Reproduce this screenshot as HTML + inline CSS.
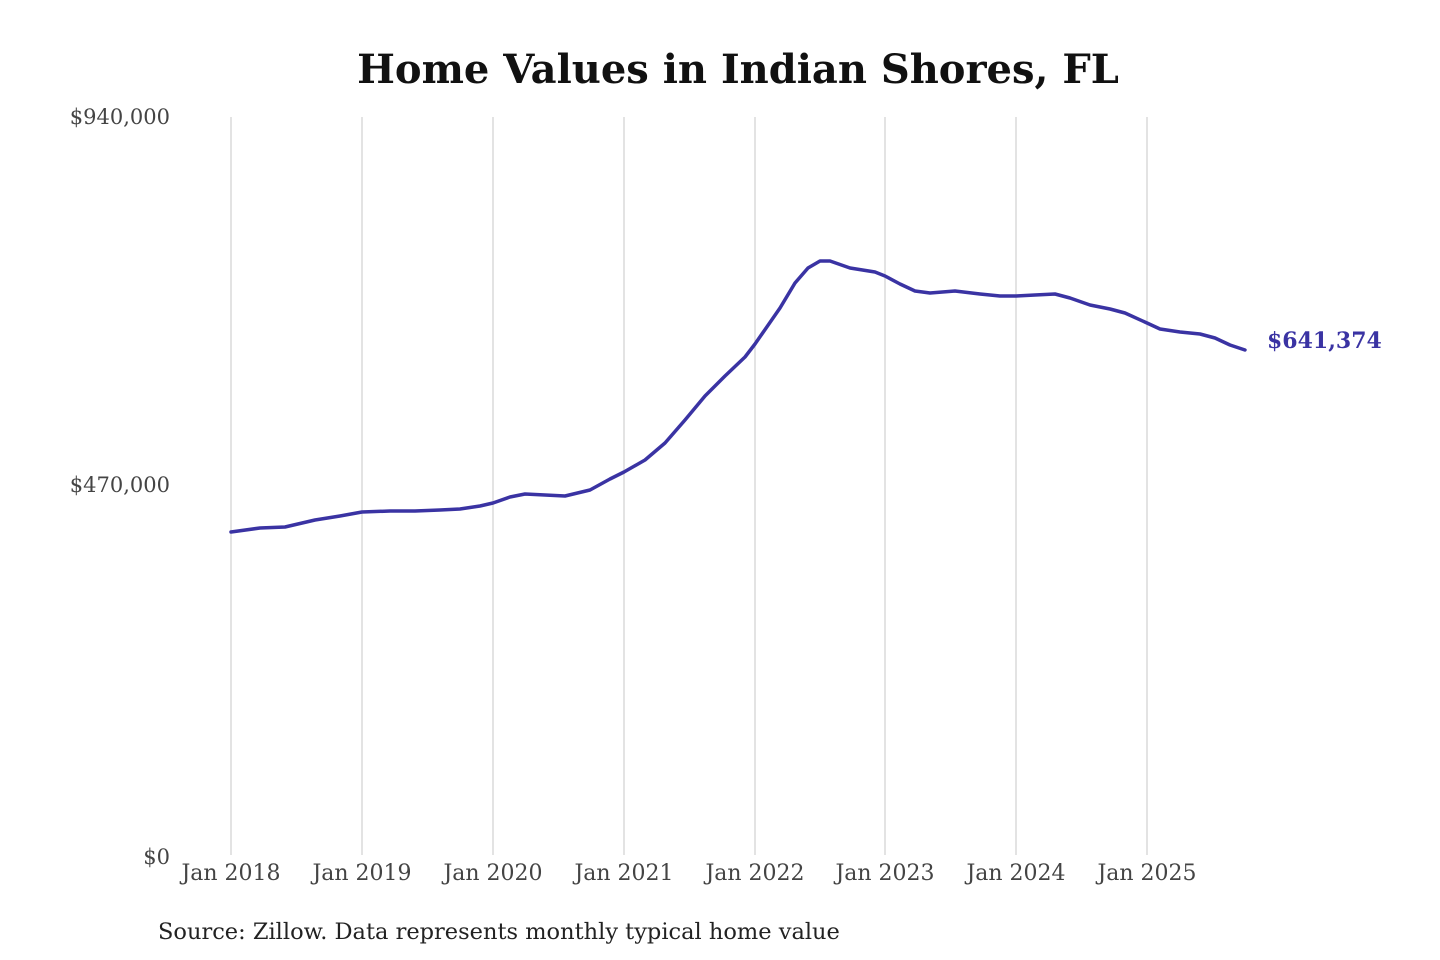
<!DOCTYPE html>
<html><head><meta charset="utf-8"><style>
html,body{margin:0;padding:0;background:#fff;}
svg{display:block;}
</style></head><body>
<svg width="1440" height="960" xmlns="http://www.w3.org/2000/svg" font-family="'DejaVu Serif','Liberation Serif',serif">
<rect width="1440" height="960" fill="#fff"/>
<text x="738" y="83" text-anchor="middle" font-size="40" font-weight="bold" fill="#111">Home Values in Indian Shores, FL</text>
<g stroke="#cccccc" stroke-width="1.1">
<line x1="231" y1="117" x2="231" y2="855"/>
<line x1="362" y1="117" x2="362" y2="855"/>
<line x1="493" y1="117" x2="493" y2="855"/>
<line x1="624" y1="117" x2="624" y2="855"/>
<line x1="755" y1="117" x2="755" y2="855"/>
<line x1="885" y1="117" x2="885" y2="855"/>
<line x1="1016" y1="117" x2="1016" y2="855"/>
<line x1="1147" y1="117" x2="1147" y2="855"/>
</g>
<g font-size="21" fill="#444" text-anchor="end">
<text x="170" y="124">$940,000</text>
<text x="170" y="492">$470,000</text>
<text x="170" y="864">$0</text>
</g>
<g font-size="22" fill="#444" text-anchor="middle">
<text x="231" y="880">Jan 2018</text>
<text x="362" y="880">Jan 2019</text>
<text x="493" y="880">Jan 2020</text>
<text x="624" y="880">Jan 2021</text>
<text x="755" y="880">Jan 2022</text>
<text x="885" y="880">Jan 2023</text>
<text x="1016" y="880">Jan 2024</text>
<text x="1147" y="880">Jan 2025</text>
</g>
<polyline fill="none" stroke="#3a33a3" stroke-width="3.5" stroke-linejoin="round" stroke-linecap="round" points="231,532 260,528 285,527 315,520 340,516 362,512 390,511 415,511 440,510 460,509 480,506 493,503 510,497 525,494 545,495 565,496 590,490 610,479 624,472 645,460 665,443 685,420 705,396 725,376 745,357 755,344 780,308 795,283 808,268 820,261 830,261 850,268 875,272 885,276 900,284 915,291 930,293 955,291 980,294 1000,296 1016,296 1035,295 1055,294 1070,298 1090,305 1110,309 1125,313 1147,323 1160,329 1180,332 1200,334 1215,338 1230,345 1245,350"/>
<text x="1267" y="348" font-size="22" font-weight="bold" fill="#3a33a3">$641,374</text>
<text x="158" y="939" font-size="22.5" fill="#222">Source: Zillow. Data represents monthly typical home value</text>
</svg>
</body></html>
